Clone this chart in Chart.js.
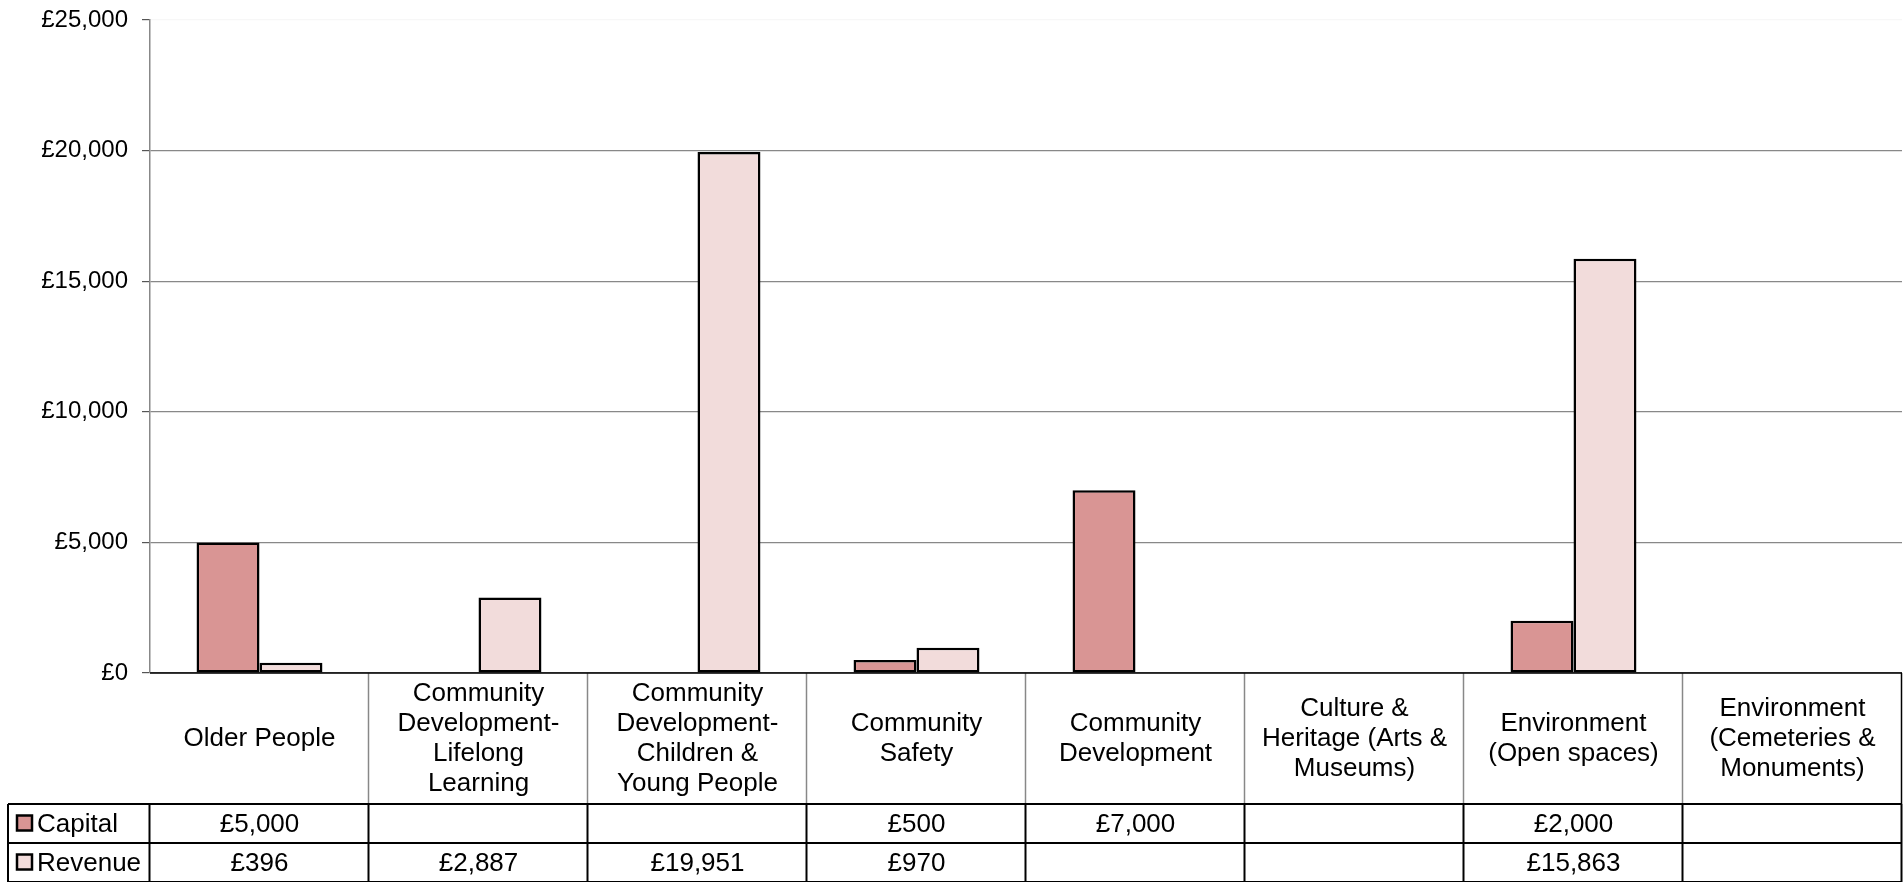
<!DOCTYPE html>
<html>
<head>
<meta charset="utf-8">
<script src="https://cdn.jsdelivr.net/npm/chart.js@4"></script>
<style>
  body { margin: 0; background: #fff; }
  #chart { display: block; }
</style>
</head>
<body>
<canvas id="chart" width="1904" height="882"></canvas>
<script>
var categories = [
  "Older People",
  ["Community", "Development-", "Lifelong", "Learning"],
  ["Community", "Development-", "Children &", "Young People"],
  ["Community", "Safety"],
  ["Community", "Development"],
  ["Culture &", "Heritage (Arts &", "Museums)"],
  ["Environment", "(Open spaces)"],
  ["Environment", "(Cemeteries &", "Monuments)"]
];
var capital = [5000, null, null, 500, 7000, null, 2000, null];
var revenue = [396, 2887, 19951, 970, null, null, 15863, null];
var seriesNames = ["Capital", "Revenue"];
var seriesColors = ["#D99594", "#F2DCDB"];

var FONT = "'Liberation Sans', Arial, sans-serif";

function money(v) {
  return "£" + Number(v).toLocaleString("en-GB");
}

// draws the data table under the plot, lined up with the x scale
var tablePlugin = {
  id: "dataTable",
  afterDraw: function(chart) {
    var ctx = chart.ctx;
    var xs = chart.scales.x;
    var area = chart.chartArea;
    var n = categories.length;
    var w = (area.right - area.left) / n;
    var top = area.bottom;
    var headBottom = top + 131;
    var row1 = headBottom + 39;
    var row2 = row1 + 39;
    var legendLeft = 8;

    ctx.save();
    // header dividers (grey)
    ctx.strokeStyle = "#888";
    ctx.lineWidth = 1.5;
    for (var i = 1; i <= n; i++) {
      var x = Math.round(area.left + i * w) - 0.5;
      if (i == n) { ctx.strokeStyle = "#000"; }
      ctx.beginPath(); ctx.moveTo(x, top); ctx.lineTo(x, headBottom); ctx.stroke();
    }
    ctx.strokeStyle = "#000";
    ctx.beginPath(); ctx.moveTo(area.left, top); ctx.lineTo(area.right, top); ctx.stroke();

    // value rows (black)
    ctx.lineWidth = 2;
    [headBottom, row1, row2].forEach(function(y) {
      ctx.beginPath(); ctx.moveTo(legendLeft, y); ctx.lineTo(area.right, y); ctx.stroke();
    });
    ctx.beginPath(); ctx.moveTo(legendLeft, headBottom); ctx.lineTo(legendLeft, row2); ctx.stroke();
    for (var i = 0; i <= n; i++) {
      var x = Math.round(area.left + i * w) - 0.5;
      ctx.beginPath(); ctx.moveTo(x, headBottom); ctx.lineTo(x, row2); ctx.stroke();
    }

    // category labels
    ctx.fillStyle = "#000";
    ctx.font = "26px " + FONT;
    ctx.textAlign = "center";
    ctx.textBaseline = "middle";
    var lh = 30;
    for (var i = 0; i < n; i++) {
      var cx = xs.getPixelForValue(i);
      var lines = Array.isArray(categories[i]) ? categories[i] : [categories[i]];
      var cy = (top + headBottom) / 2 - (lines.length - 1) * lh / 2;
      for (var j = 0; j < lines.length; j++) {
        ctx.fillText(lines[j], cx, cy + j * lh);
      }
    }

    // legend column + values
    var rows = [capital, revenue];
    var ys = [(headBottom + row1) / 2, (row1 + row2) / 2];
    for (var r = 0; r < 2; r++) {
      ctx.fillStyle = seriesColors[r];
      ctx.fillRect(17, ys[r] - 8, 15, 15);
      ctx.strokeStyle = "#000";
      ctx.lineWidth = 2.5;
      ctx.strokeRect(17, ys[r] - 8, 15, 15);
      ctx.fillStyle = "#000";
      ctx.textAlign = "left";
      ctx.fillText(seriesNames[r], 37, ys[r] + 1);
      ctx.textAlign = "center";
      for (var i = 0; i < n; i++) {
        if (rows[r][i] != null) {
          ctx.fillText(money(rows[r][i]), xs.getPixelForValue(i), ys[r] + 1);
        }
      }
    }
    ctx.restore();
  }
};

var g = new Chart(document.getElementById("chart"), {
  type: "bar",
  data: {
    labels: categories,
    datasets: [
      {
        label: seriesNames[0],
        data: capital,
        backgroundColor: seriesColors[0],
        borderColor: "#000",
        borderWidth: 2.5,
        borderSkipped: false,
        categoryPercentage: 0.575,
        barPercentage: 1
      },
      {
        label: seriesNames[1],
        data: revenue,
        backgroundColor: seriesColors[1],
        borderColor: "#000",
        borderWidth: 2.5,
        borderSkipped: false,
        categoryPercentage: 0.575,
        barPercentage: 1
      }
    ]
  },
  options: {
    responsive: false,
    devicePixelRatio: 1,
    animation: false,
    layout: { padding: { top: 6, right: 2, left: 0, bottom: 0 } },
    plugins: {
      legend: { display: false },
      tooltip: { enabled: false }
    },
    scales: {
      x: {
        grid: { display: false },
        border: { display: false },
        ticks: { display: false },
        afterFit: function(s) { s.height = 209; }
      },
      y: {
        min: 0,
        max: 25000,
        ticks: {
          stepSize: 5000,
          padding: 14,
          color: "#000",
          font: { family: FONT, size: 24, lineHeight: 0.5 },
          callback: function(v) { return money(v); }
        },
        grid: {
          color: function(c) { return c.tick && c.tick.value == 25000 ? "rgba(0,0,0,0.03)" : "#888"; },
          lineWidth: 1.2,
          tickLength: 8,
          tickColor: "#555"
        },
        border: { color: "#888", width: 1.5 },
        afterFit: function(s) { s.width = 150; }
      }
    }
  },
  plugins: [tablePlugin]
});
</script>
</body>
</html>
